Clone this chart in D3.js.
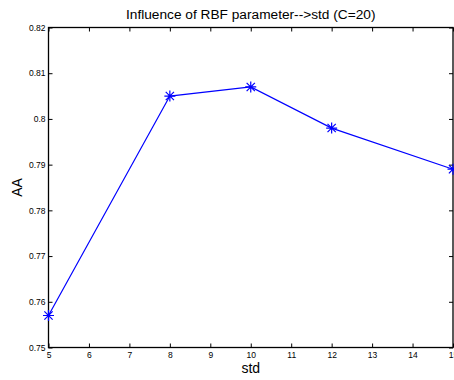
<!DOCTYPE html>
<html>
<head>
<meta charset="utf-8">
<script src="https://cdn.jsdelivr.net/npm/d3@7"></script>
<style>
  html, body { margin: 0; padding: 0; background: #fff; }
  svg { display: block; }
  text { font-family: "Liberation Sans", Arial, sans-serif; fill: #000; }
</style>
</head>
<body>
<script>
const stdValues = [5, 8, 10, 12, 15];
const aaValues = [0.757, 0.805, 0.807, 0.798, 0.789];
const xTicks = [5, 6, 7, 8, 9, 10, 11, 12, 13, 14, 15];
const yTicks = [0.75, 0.76, 0.77, 0.78, 0.79, 0.8, 0.81, 0.82];
const titleText = "Influence of RBF parameter-->std (C=20)";
const xLabel = "std";
const yLabel = "AA";

const W = 454, H = 380;
const m = { left: 48.5, right: 453, top: 27.5, bottom: 347.5 };

const svg = d3.select("body").append("svg").attr("width", W).attr("height", H);

const x = d3.scaleLinear().domain([5, 15]).range([m.left, m.right]);
const y = d3.scaleLinear().domain([0.75, 0.82]).range([m.bottom, m.top]);

const tickLen = 4;
const fmtY = d => d3.format("")(+d.toFixed(2));

// bottom axis
const gB = svg.append("g").attr("transform", `translate(0,${m.bottom})`)
  .call(d3.axisBottom(x).tickValues(xTicks).tickSizeInner(-tickLen).tickSizeOuter(0).tickPadding(5).tickFormat(d3.format("d")));
// top axis (ticks only)
const gT = svg.append("g").attr("transform", `translate(0,${m.top})`)
  .call(d3.axisTop(x).tickValues(xTicks).tickSizeInner(-tickLen).tickSizeOuter(0).tickFormat(""));
// left axis
const gL = svg.append("g").attr("transform", `translate(${m.left},0)`)
  .call(d3.axisLeft(y).tickValues(yTicks).tickSizeInner(-tickLen).tickSizeOuter(0).tickPadding(3).tickFormat(fmtY));
// right axis (ticks only)
const gR = svg.append("g").attr("transform", `translate(${m.right},0)`)
  .call(d3.axisRight(y).tickValues(yTicks).tickSizeInner(-tickLen).tickSizeOuter(0).tickFormat(""));

[gB, gT, gL, gR].forEach(g => {
  g.select(".domain").remove();
  g.selectAll(".tick line").attr("stroke", "#000").attr("stroke-width", 1);
  g.selectAll("text").attr("font-size", "8.5px").attr("font-family", "Liberation Sans, Arial, sans-serif").attr("fill", "#222");
});
gB.selectAll("text").attr("dy", "0.6em");

// box
svg.append("rect")
  .attr("x", m.left).attr("y", m.top)
  .attr("width", m.right - m.left).attr("height", m.bottom - m.top)
  .attr("fill", "none").attr("stroke", "#000").attr("stroke-width", 1.3);

// line
const data = stdValues.map((s, i) => ({ s, v: aaValues[i] }));
svg.append("path").datum(data)
  .attr("fill", "none").attr("stroke", "#0000ff").attr("stroke-width", 1.2)
  .attr("d", d3.line().x(d => x(d.s)).y(d => y(d.v)));

// asterisk markers
const r = 5.5, rd = r * 0.75;
const mk = svg.append("g").selectAll("g").data(data).join("g")
  .attr("transform", d => `translate(${x(d.s)},${y(d.v)})`);
mk.append("path")
  .attr("d", `M${-r},0L${r},0M0,${-r}L0,${r}M${-rd},${-rd}L${rd},${rd}M${-rd},${rd}L${rd},${-rd}`)
  .attr("stroke", "#0000ff").attr("stroke-width", 1.2).attr("fill", "none");

// title
svg.append("text").attr("x", (m.left + m.right) / 2).attr("y", 19)
  .attr("text-anchor", "middle").attr("font-size", "13.7px").text(titleText);
// x label
svg.append("text").attr("x", (m.left + m.right) / 2).attr("y", 373)
  .attr("text-anchor", "middle").attr("font-size", "14px").text(xLabel);
// y label
svg.append("text").attr("transform", `translate(22,${(m.top + m.bottom) / 2}) rotate(-90)`)
  .attr("text-anchor", "middle").attr("font-size", "14px").text(yLabel);
</script>
</body>
</html>
